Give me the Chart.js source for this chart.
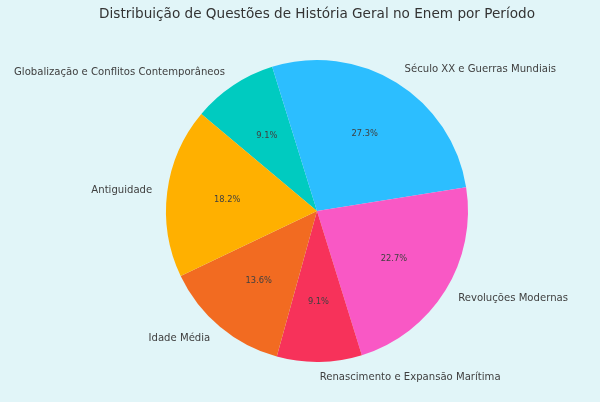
<!DOCTYPE html>
<html>
<head>
  <meta charset="utf-8">
  <title>Distribuição de Questões de História Geral no Enem por Período</title>
  <script src="https://cdn.jsdelivr.net/npm/chart.js"></script>
  <style>
    html, body { margin: 0; padding: 0; background: #e1f5f8; }
    #wrap { width: 600px; height: 402px; }
  </style>
</head>
<body>
  <div id="wrap"><canvas id="pieChart" width="600" height="402"></canvas></div>

  <script>
    // periods, counter-clockwise from the start angle (like the original)
    const periodos = [
      'Antiguidade',
      'Idade Média',
      'Renascimento e Expansão Marítima',
      'Revoluções Modernas',
      'Século XX e Guerras Mundiais',
      'Globalização e Conflitos Contemporâneos'
    ];
    const questoes = [4, 3, 2, 5, 6, 2];
    const cores = ['#ffb000', '#f26b21', '#f7325a', '#f958c5', '#2cbeff', '#00cbc0'];

    const titulo = 'Distribuição de Questões de História Geral no Enem por Período';
    const total = questoes.reduce((a, b) => a + b, 0);

    // chart.js goes clockwise, so flip the order
    const labels = periodos.slice().reverse();
    const values = questoes.slice().reverse();
    const colors = cores.slice().reverse();

    // labels outside (1.1 r) and percentages inside (0.6 r)
    const pieText = {
      id: 'pieText',
      afterDraw(chart) {
        const ctx = chart.ctx;
        const meta = chart.getDatasetMeta(0);
        ctx.save();
        ctx.fillStyle = '#404040';
        meta.data.forEach((arc, i) => {
          const p = arc.getProps(['x', 'y', 'startAngle', 'endAngle', 'outerRadius']);
          const mid = (p.startAngle + p.endAngle) / 2;
          const c = Math.cos(mid), s = Math.sin(mid);

          ctx.font = '10.1px "DejaVu Sans"';
          ctx.textBaseline = 'middle';
          ctx.textAlign = c > 0 ? 'left' : 'right';
          ctx.fillText(labels[i], p.x + 1.1 * p.outerRadius * c, p.y + 1.1 * p.outerRadius * s);

          ctx.font = '8.3px "DejaVu Sans"';
          ctx.textAlign = 'center';
          const pct = (values[i] / total * 100).toFixed(1) + '%';
          ctx.fillText(pct, p.x + 0.6 * p.outerRadius * c, p.y + 0.6 * p.outerRadius * s);
        });

        // title sits over the pie centre
        ctx.fillStyle = '#333333';
        ctx.font = '13.6px "DejaVu Sans"';
        ctx.textAlign = 'center';
        ctx.textBaseline = 'middle';
        ctx.fillText(titulo, meta.data[0].x, 14);
        ctx.restore();
      }
    };

    const bg = {
      id: 'bg',
      beforeDraw(chart) {
        const ctx = chart.ctx;
        ctx.save();
        ctx.fillStyle = '#e1f5f8';
        ctx.fillRect(0, 0, chart.width, chart.height);
        ctx.restore();
      }
    };

    new Chart(document.getElementById('pieChart'), {
      type: 'pie',
      data: {
        labels: labels,
        datasets: [{
          data: values,
          backgroundColor: colors,
          borderWidth: 0
        }]
      },
      options: {
        responsive: false,
        animation: false,
        rotation: -50,
        layout: { padding: { top: 60, bottom: 40, left: 166, right: 132 } },
        plugins: {
          legend: { display: false },
          tooltip: { enabled: false }
        }
      },
      plugins: [bg, pieText]
    });
  </script>
</body>
</html>
